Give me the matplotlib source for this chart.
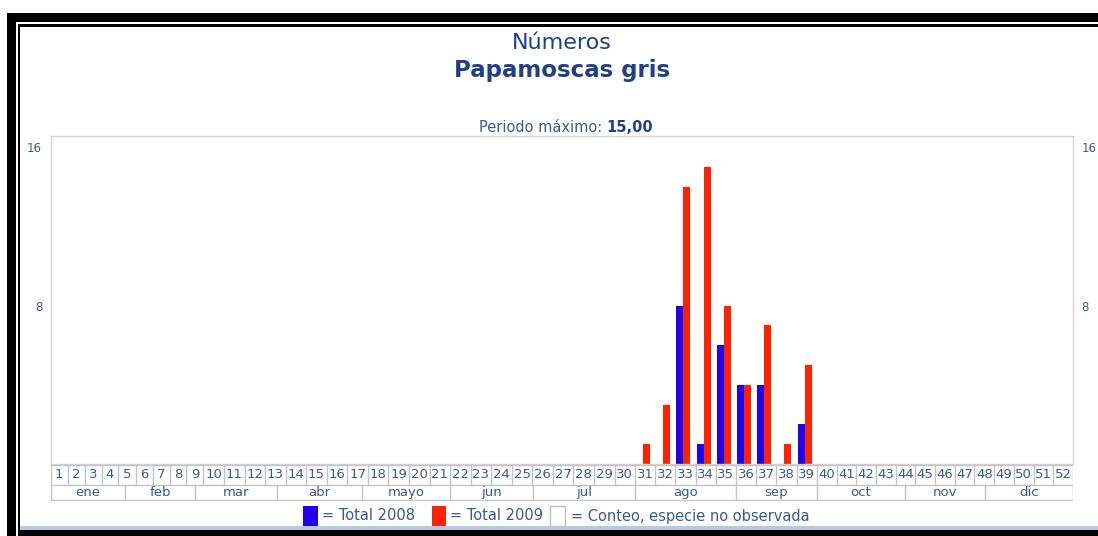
import matplotlib.pyplot as plt
from matplotlib.patches import Rectangle
import numpy as np

# data
weeks = list(range(1, 53))
total_2008 = [0] * 32 + [8, 1, 6, 4, 4, 0, 2] + [0] * 13
total_2009 = [0] * 30 + [1, 3, 14, 15, 8, 4, 7, 1, 5] + [0] * 13
months = ["ene", "feb", "mar", "abr", "mayo", "jun", "jul", "ago", "sep", "oct", "nov", "dic"]
month_edges_week = [0, 4.38, 8.5, 12.58, 16.71, 21.0, 25.03, 30, 35, 39, 43.47, 47.53, 52]

W, H = 1098, 536
fig = plt.figure(figsize=(W / 100, H / 100), dpi=100)
fig.patch.set_facecolor("white")

def rect_px(x0, y0, x1, y1, z=-10, **kw):
    fig.add_artist(Rectangle((x0 / W, 1 - y1 / H), (x1 - x0) / W, (y1 - y0) / H,
                             transform=fig.transFigure, zorder=z, **kw))

# frame
rect_px(7, 13, 1110, 545, fc="black", ec="none")
rect_px(16, 22, 1110, 545, fc="white", ec="none")
rect_px(18, 24, 1110, 545, fc="black", ec="none")
rect_px(20, 27, 1110, 529, fc="white", ec="none")
rect_px(20, 526, 1110, 530, fc="#b4c8e8", ec="none")

txt_col = "#3a5a8a"
title_col = "#1f3f88"

# week cell widths (html table: single digit cells narrower)
widths = []
for w in weeks:
    if w < 10:
        widths.append(17.0)
    elif w <= 30:
        widths.append(20.55)
    elif w <= 39:
        widths.append(20.2)
    else:
        widths.append(19.7)
edges = np.concatenate([[0], np.cumsum(widths)])
total_w = edges[-1]

x_left, x_right = 50.5, 50.5 + total_w
y_top, y_base = 136, 464

ax = fig.add_axes([x_left / W, 1 - y_base / H, total_w / W, (y_base - y_top) / H])
ax.set_facecolor("none")
ax.set_xlim(0, total_w)
ax.set_ylim(0, (y_base - y_top) / 19.8)
for s in ax.spines.values():
    s.set_color("#d4d4d4")
    s.set_linewidth(1)
ax.set_xticks([])
ax.set_yticks([8, 16])
ax.set_yticklabels(["8", "16"])
ax.tick_params(axis="y", length=0, pad=6, labelsize=8.5, labelcolor=txt_col,
               labelright=True)

ax.bar(edges[:-1] + 1, total_2008, width=7, align="edge", color="#2000ee")
ax.bar(edges[:-1] + 8, total_2009, width=7, align="edge", color="#ff2200")

# week / month table
tab = fig.add_axes([x_left / W, 1 - 501 / H, total_w / W, (501 - y_base) / H])
tab.set_xlim(0, total_w)
tab.set_ylim(501, y_base)
tab.axis("off")
grid_col = "#c4c4c4"
tab.plot([0, total_w], [y_base + 1, y_base + 1], color=grid_col, lw=1)
tab.plot([0, total_w], [485, 485], color=grid_col, lw=1)
tab.plot([0, total_w], [500, 500], color=grid_col, lw=1)
for e in edges:
    tab.plot([e, e], [y_base + 1, 485], color=grid_col, lw=1)
for i, w in enumerate(weeks):
    tab.text((edges[i] + edges[i + 1]) / 2, 475, str(w), ha="center", va="center",
             fontsize=9.5, color=txt_col)

def week_to_x(wk):
    i = int(np.floor(wk))
    if i >= 52:
        return total_w
    return edges[i] + (wk - i) * widths[i]

for i, m in enumerate(months):
    a = week_to_x(month_edges_week[i])
    b = week_to_x(month_edges_week[i + 1])
    tab.plot([a, a], [485, 500], color=grid_col, lw=1)
    tab.text((a + b) / 2, 493, m, ha="center", va="center", fontsize=9.5, color=txt_col)
tab.plot([total_w, total_w], [485, 500], color=grid_col, lw=1)

# titles
fig.text(562 / W, 1 - 43 / H, "Números", ha="center", va="center", fontsize=16, color=title_col)
fig.text(562 / W, 1 - 71 / H, "Papamoscas gris", ha="center", va="center", fontsize=16.5,
         fontweight="bold", color=title_col)
fig.text(602 / W, 1 - 127 / H, "Periodo máximo:", ha="right", va="center", fontsize=10.5,
         color=txt_col)
fig.text(606 / W, 1 - 127 / H, "15,00", ha="left", va="center", fontsize=10.5,
         fontweight="bold", color=title_col)

# legend
rect_px(303, 506, 318, 526, z=2, fc="#2000ee", ec="none")
fig.text(322 / W, 1 - 516 / H, "= Total 2008", ha="left", va="center", fontsize=10.5, color=txt_col)
rect_px(432, 506, 446, 526, z=2, fc="#ff2200", ec="none")
fig.text(450 / W, 1 - 516 / H, "= Total 2009", ha="left", va="center", fontsize=10.5, color=txt_col)
rect_px(550, 506, 565, 526, z=2, fc="white", ec="#c0c0c0", lw=1)
fig.text(571 / W, 1 - 516 / H, "= Conteo, especie no observada", ha="left", va="center",
         fontsize=10.5, color=txt_col)

plt.savefig("out.png", dpi=100)
